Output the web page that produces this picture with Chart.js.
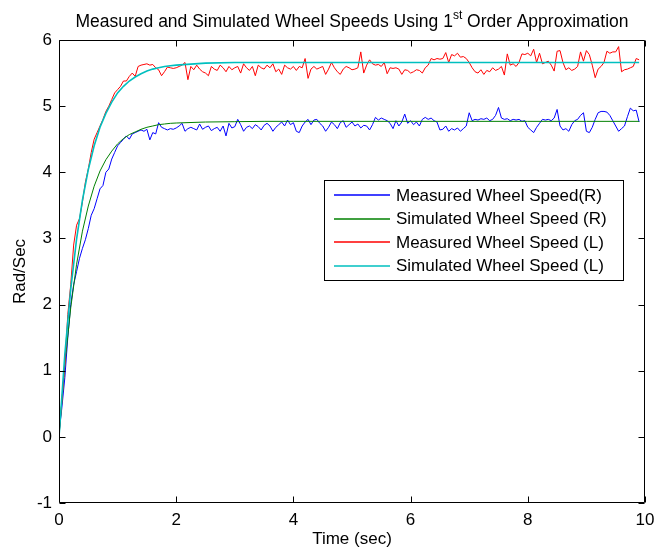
<!DOCTYPE html>
<html><head><meta charset="utf-8">
<script src="https://cdn.jsdelivr.net/npm/chart.js@4.4.0/dist/chart.umd.min.js"></script>
<style>html,body{margin:0;padding:0;background:#fff;overflow:hidden}canvas{display:block}</style>
</head><body>
<canvas id="c" width="654" height="550"></canvas>
<script>
// ---- text ----
const titleMain = 'Measured and Simulated Wheel Speeds Using 1';
const titleSup = 'st';
const titleTail = ' Order Approximation';
const xLabel = 'Time (sec)';
const yLabel = 'Rad/Sec';
const seriesNames = ['Measured Wheel Speed(R)', 'Simulated Wheel Speed (R)', 'Measured Wheel Speed (L)', 'Simulated Wheel Speed (L)'];
const seriesColors = ['#0000ff', '#008000', '#ff0000', '#00bfbf'];

// ---- axes ----
const xTicks = [0, 2, 4, 6, 8, 10];
const yTicks = [-1, 0, 1, 2, 3, 4, 5, 6];

// ---- measured data, sampled every 0.05 s from 0 to 9.9 s ----
const measStep = 0.05;
const measuredR = [
  0.05, 0.45, 0.9, 1.5, 2.0, 2.3, 2.5, 2.7, 2.85, 2.98,
  3.15, 3.35, 3.45, 3.6, 3.75, 3.8, 4.0, 4.05, 4.2, 4.3,
  4.4, 4.45, 4.5, 4.55, 4.5, 4.58, 4.6, 4.62, 4.64, 4.62,
  4.65, 4.49, 4.6, 4.58, 4.75, 4.68, 4.66, 4.64, 4.66, 4.65,
  4.67,
  4.70, 4.74, 4.62, 4.66, 4.68, 4.66, 4.64, 4.73, 4.65, 4.68,
  4.70, 4.63, 4.66, 4.68, 4.62, 4.70, 4.55, 4.74, 4.67, 4.69,
  4.80, 4.72, 4.62, 4.68, 4.70, 4.66, 4.72, 4.69, 4.64, 4.71,
  4.74, 4.70, 4.62, 4.68, 4.72, 4.76, 4.70, 4.79, 4.72, 4.75,
  4.62, 4.60, 4.70, 4.76, 4.80, 4.72, 4.79, 4.80, 4.74, 4.70,
  4.62, 4.68, 4.76, 4.72, 4.66, 4.75, 4.78, 4.68, 4.72, 4.76,
  4.70, 4.73, 4.67, 4.71, 4.70, 4.64, 4.72, 4.83, 4.79, 4.82,
  4.80, 4.78, 4.74, 4.66, 4.78, 4.70, 4.76, 4.88, 4.74, 4.78,
  4.72, 4.76, 4.70, 4.80, 4.83, 4.80, 4.82, 4.78, 4.76, 4.64,
  4.65, 4.70, 4.62, 4.66, 4.64, 4.67, 4.62, 4.66, 4.70, 4.90,
  4.78, 4.80, 4.79, 4.81, 4.80, 4.82, 4.78, 4.80, 4.86, 4.98,
  4.82, 4.80, 4.81, 4.78, 4.80, 4.79, 4.80, 4.77, 4.78, 4.68,
  4.64, 4.60, 4.68, 4.74, 4.80, 4.79, 4.80, 4.78, 4.82, 4.95,
  4.70, 4.64, 4.66, 4.62, 4.72, 4.78, 4.80, 4.86, 4.90, 4.62,
  4.60, 4.68, 4.80, 4.90, 4.92, 4.92, 4.91, 4.86, 4.78, 4.70,
  4.62, 4.66, 4.70, 4.84, 4.97, 4.93, 4.94, 4.76
];
const measuredL = [
  0.05, 0.55, 1.1, 1.85, 2.3, 2.9, 3.2, 3.3, 3.55, 3.85,
  4.05, 4.3, 4.5, 4.6, 4.7, 4.8, 4.92, 5.0, 5.1, 5.2,
  5.25, 5.3, 5.38, 5.38, 5.45, 5.5, 5.45, 5.6, 5.62, 5.63,
  5.64, 5.62, 5.63, 5.58, 5.55, 5.46, 5.52, 5.59, 5.58, 5.57,
  5.58,
  5.60, 5.62, 5.66, 5.40, 5.60, 5.55, 5.62, 5.56, 5.52, 5.50,
  5.46, 5.60, 5.56, 5.54, 5.62, 5.58, 5.52, 5.60, 5.55, 5.58,
  5.60, 5.50, 5.64, 5.58, 5.54, 5.60, 5.46, 5.62, 5.58, 5.56,
  5.62, 5.58, 5.64, 5.52, 5.56, 5.48, 5.62, 5.58, 5.56, 5.60,
  5.54, 5.60, 5.58, 5.72, 5.42, 5.56, 5.60, 5.56, 5.58, 5.60,
  5.48, 5.56, 5.66, 5.58, 5.52, 5.48, 5.56, 5.60, 5.58, 5.55,
  5.56, 5.58, 5.82, 5.50, 5.62, 5.70, 5.64, 5.62, 5.63, 5.60,
  5.66, 5.49, 5.58, 5.57, 5.58, 5.56, 5.48, 5.55, 5.54, 5.50,
  5.52, 5.55, 5.54, 5.50, 5.58, 5.62, 5.72, 5.70, 5.72, 5.71,
  5.72, 5.81, 5.66, 5.78, 5.76, 5.80, 5.74, 5.75, 5.72, 5.66,
  5.58, 5.52, 5.50, 5.55, 5.48, 5.54, 5.52, 5.58, 5.54, 5.56,
  5.60, 5.47, 5.79, 5.62, 5.64, 5.60, 5.66, 5.79, 5.78, 5.80,
  5.76, 5.86, 5.66, 5.80, 5.64, 5.66, 5.68, 5.62, 5.53, 5.83,
  5.84, 5.66, 5.55, 5.58, 5.54, 5.56, 5.60, 5.82, 5.68, 5.84,
  5.78, 5.62, 5.43, 5.56, 5.60, 5.66, 5.83, 5.80, 5.82, 5.82,
  5.90, 5.52, 5.55, 5.56, 5.58, 5.60, 5.72, 5.70
];

// ---- simulated (1st order) responses ----
const simTime = [0, 0.1, 0.2, 0.3, 0.4, 0.5, 0.6, 0.7, 0.8, 0.9, 1.0, 1.1, 1.2, 1.3, 1.4, 1.5, 1.6, 1.7, 1.8, 1.9, 2.0, 2.5, 3.0, 3.5, 4.0, 5.0, 6.0, 7.0, 8.0, 9.0, 9.9];
const simulatedR = [0, 1.10, 1.95, 2.61, 3.11, 3.49, 3.79, 4.02, 4.19, 4.32, 4.43, 4.51, 4.57, 4.61, 4.65, 4.68, 4.70, 4.72, 4.73, 4.74, 4.745, 4.76, 4.765, 4.77, 4.77, 4.77, 4.77, 4.77, 4.77, 4.77, 4.77];
const simulatedL = [0, 1.25, 2.23, 2.99, 3.58, 4.04, 4.40, 4.68, 4.89, 5.06, 5.20, 5.30, 5.38, 5.44, 5.49, 5.53, 5.56, 5.58, 5.60, 5.61, 5.62, 5.65, 5.66, 5.66, 5.66, 5.66, 5.66, 5.66, 5.66, 5.66, 5.66];

// ---- build datasets ----
const measPts = arr => arr.map((v, i) => ({ x: +(i * measStep).toFixed(2), y: v }));
const simPts = arr => arr.map((v, i) => ({ x: simTime[i], y: v }));
const seriesData = [measPts(measuredR), simPts(simulatedR), measPts(measuredL), simPts(simulatedL)];
const seriesWidths = [1, 1, 1, 1.6];

const FONT = "'Liberation Sans', Arial, sans-serif";
const FS = 17;
const TXT = '#000';

const frame = {
  id: 'frame',
  afterDatasetsDraw(chart) {
    const { ctx, chartArea: a, scales: { x, y } } = chart;
    ctx.save();
    ctx.strokeStyle = '#000';
    ctx.lineWidth = 1;
    ctx.beginPath();
    const L = Math.round(a.left) + 0.5, R = Math.round(a.right) - 0.5, T = Math.round(a.top) + 0.5, B = Math.round(a.bottom) - 0.5;
    ctx.rect(L, T, R - L, B - T);
    const tl = 6;
    xTicks.forEach(v => {
      const px = Math.round(x.getPixelForValue(v)) + 0.5;
      ctx.moveTo(px, B); ctx.lineTo(px, B - tl);
      ctx.moveTo(px, T); ctx.lineTo(px, T + tl);
    });
    yTicks.forEach(v => {
      const py = Math.round(y.getPixelForValue(v)) + 0.5;
      ctx.moveTo(L, py); ctx.lineTo(L + tl, py);
      ctx.moveTo(R, py); ctx.lineTo(R - tl, py);
    });
    ctx.stroke();

    // legend box
    const bx = 324.5, by = 180.5, bw = 299, bh = 100;
    ctx.fillStyle = '#fff';
    ctx.fillRect(bx, by, bw, bh);
    ctx.strokeStyle = '#000';
    ctx.strokeRect(bx, by, bw, bh);
    ctx.font = FS + 'px ' + FONT;
    ctx.textBaseline = 'middle';
    ctx.textAlign = 'left';
    seriesNames.forEach((name, i) => {
      const ry = 195 + i * 23.5;
      ctx.beginPath();
      ctx.strokeStyle = seriesColors[i];
      ctx.lineWidth = 1.6;
      ctx.moveTo(334, Math.round(ry));
      ctx.lineTo(390, Math.round(ry));
      ctx.stroke();
      ctx.fillStyle = TXT;
      ctx.fillText(name, 396, ry + 1);
    });

    // title with superscript
    ctx.fillStyle = TXT;
    ctx.textBaseline = 'alphabetic';
    const f1 = '17.5px ' + FONT, f2 = '12px ' + FONT;
    ctx.font = f1; const w1 = ctx.measureText(titleMain).width; const w3 = ctx.measureText(titleTail).width;
    ctx.font = f2; const w2 = ctx.measureText(titleSup).width;
    const cx = (a.left + a.right) / 2;
    let sx = cx - (w1 + w2 + w3) / 2;
    const base = 27;
    ctx.font = f1; ctx.fillText(titleMain, sx, base); sx += w1;
    ctx.font = f2; ctx.fillText(titleSup, sx, base - 8); sx += w2;
    ctx.font = f1; ctx.fillText(titleTail, sx, base);
    ctx.restore();
  }
};

new Chart(document.getElementById('c'), {
  type: 'line',
  data: {
    datasets: seriesData.map((d, i) => ({
      label: seriesNames[i],
      data: d,
      borderColor: seriesColors[i],
      backgroundColor: seriesColors[i],
      borderWidth: seriesWidths[i],
      pointRadius: 0,
      tension: 0,
      fill: false,
      order: 4 - i
    }))
  },
  options: {
    responsive: false,
    animation: false,
    devicePixelRatio: 1,
    layout: { padding: { top: 40, right: 9, left: 0, bottom: 0 } },
    plugins: { legend: { display: false }, tooltip: { enabled: false }, title: { display: false } },
    scales: {
      x: {
        type: 'linear', min: 0, max: 10,
        afterBuildTicks: s => { s.ticks = xTicks.map(v => ({ value: v })); },
        afterFit: s => { s.height = 47; s.paddingLeft = 0; s.paddingRight = 0; },
        grid: { display: false, drawTicks: false },
        border: { display: false },
        ticks: { color: TXT, font: { family: FONT, size: FS }, padding: 7, maxRotation: 0 },
        title: { display: true, text: xLabel, color: TXT, font: { family: FONT, size: FS }, padding: 0 }
      },
      y: {
        type: 'linear', min: -1, max: 6,
        afterBuildTicks: s => { s.ticks = yTicks.map(v => ({ value: v })); },
        afterFit: s => { s.width = 59; s.paddingTop = 0; s.paddingBottom = 0; },
        grid: { display: false, drawTicks: false },
        border: { display: false },
        ticks: { color: TXT, font: { family: FONT, size: FS }, padding: 7 },
        title: { display: true, text: yLabel, color: TXT, font: { family: FONT, size: FS }, padding: { top: 10, bottom: 0 } }
      }
    }
  },
  plugins: [frame]
});
</script>
</body></html>
